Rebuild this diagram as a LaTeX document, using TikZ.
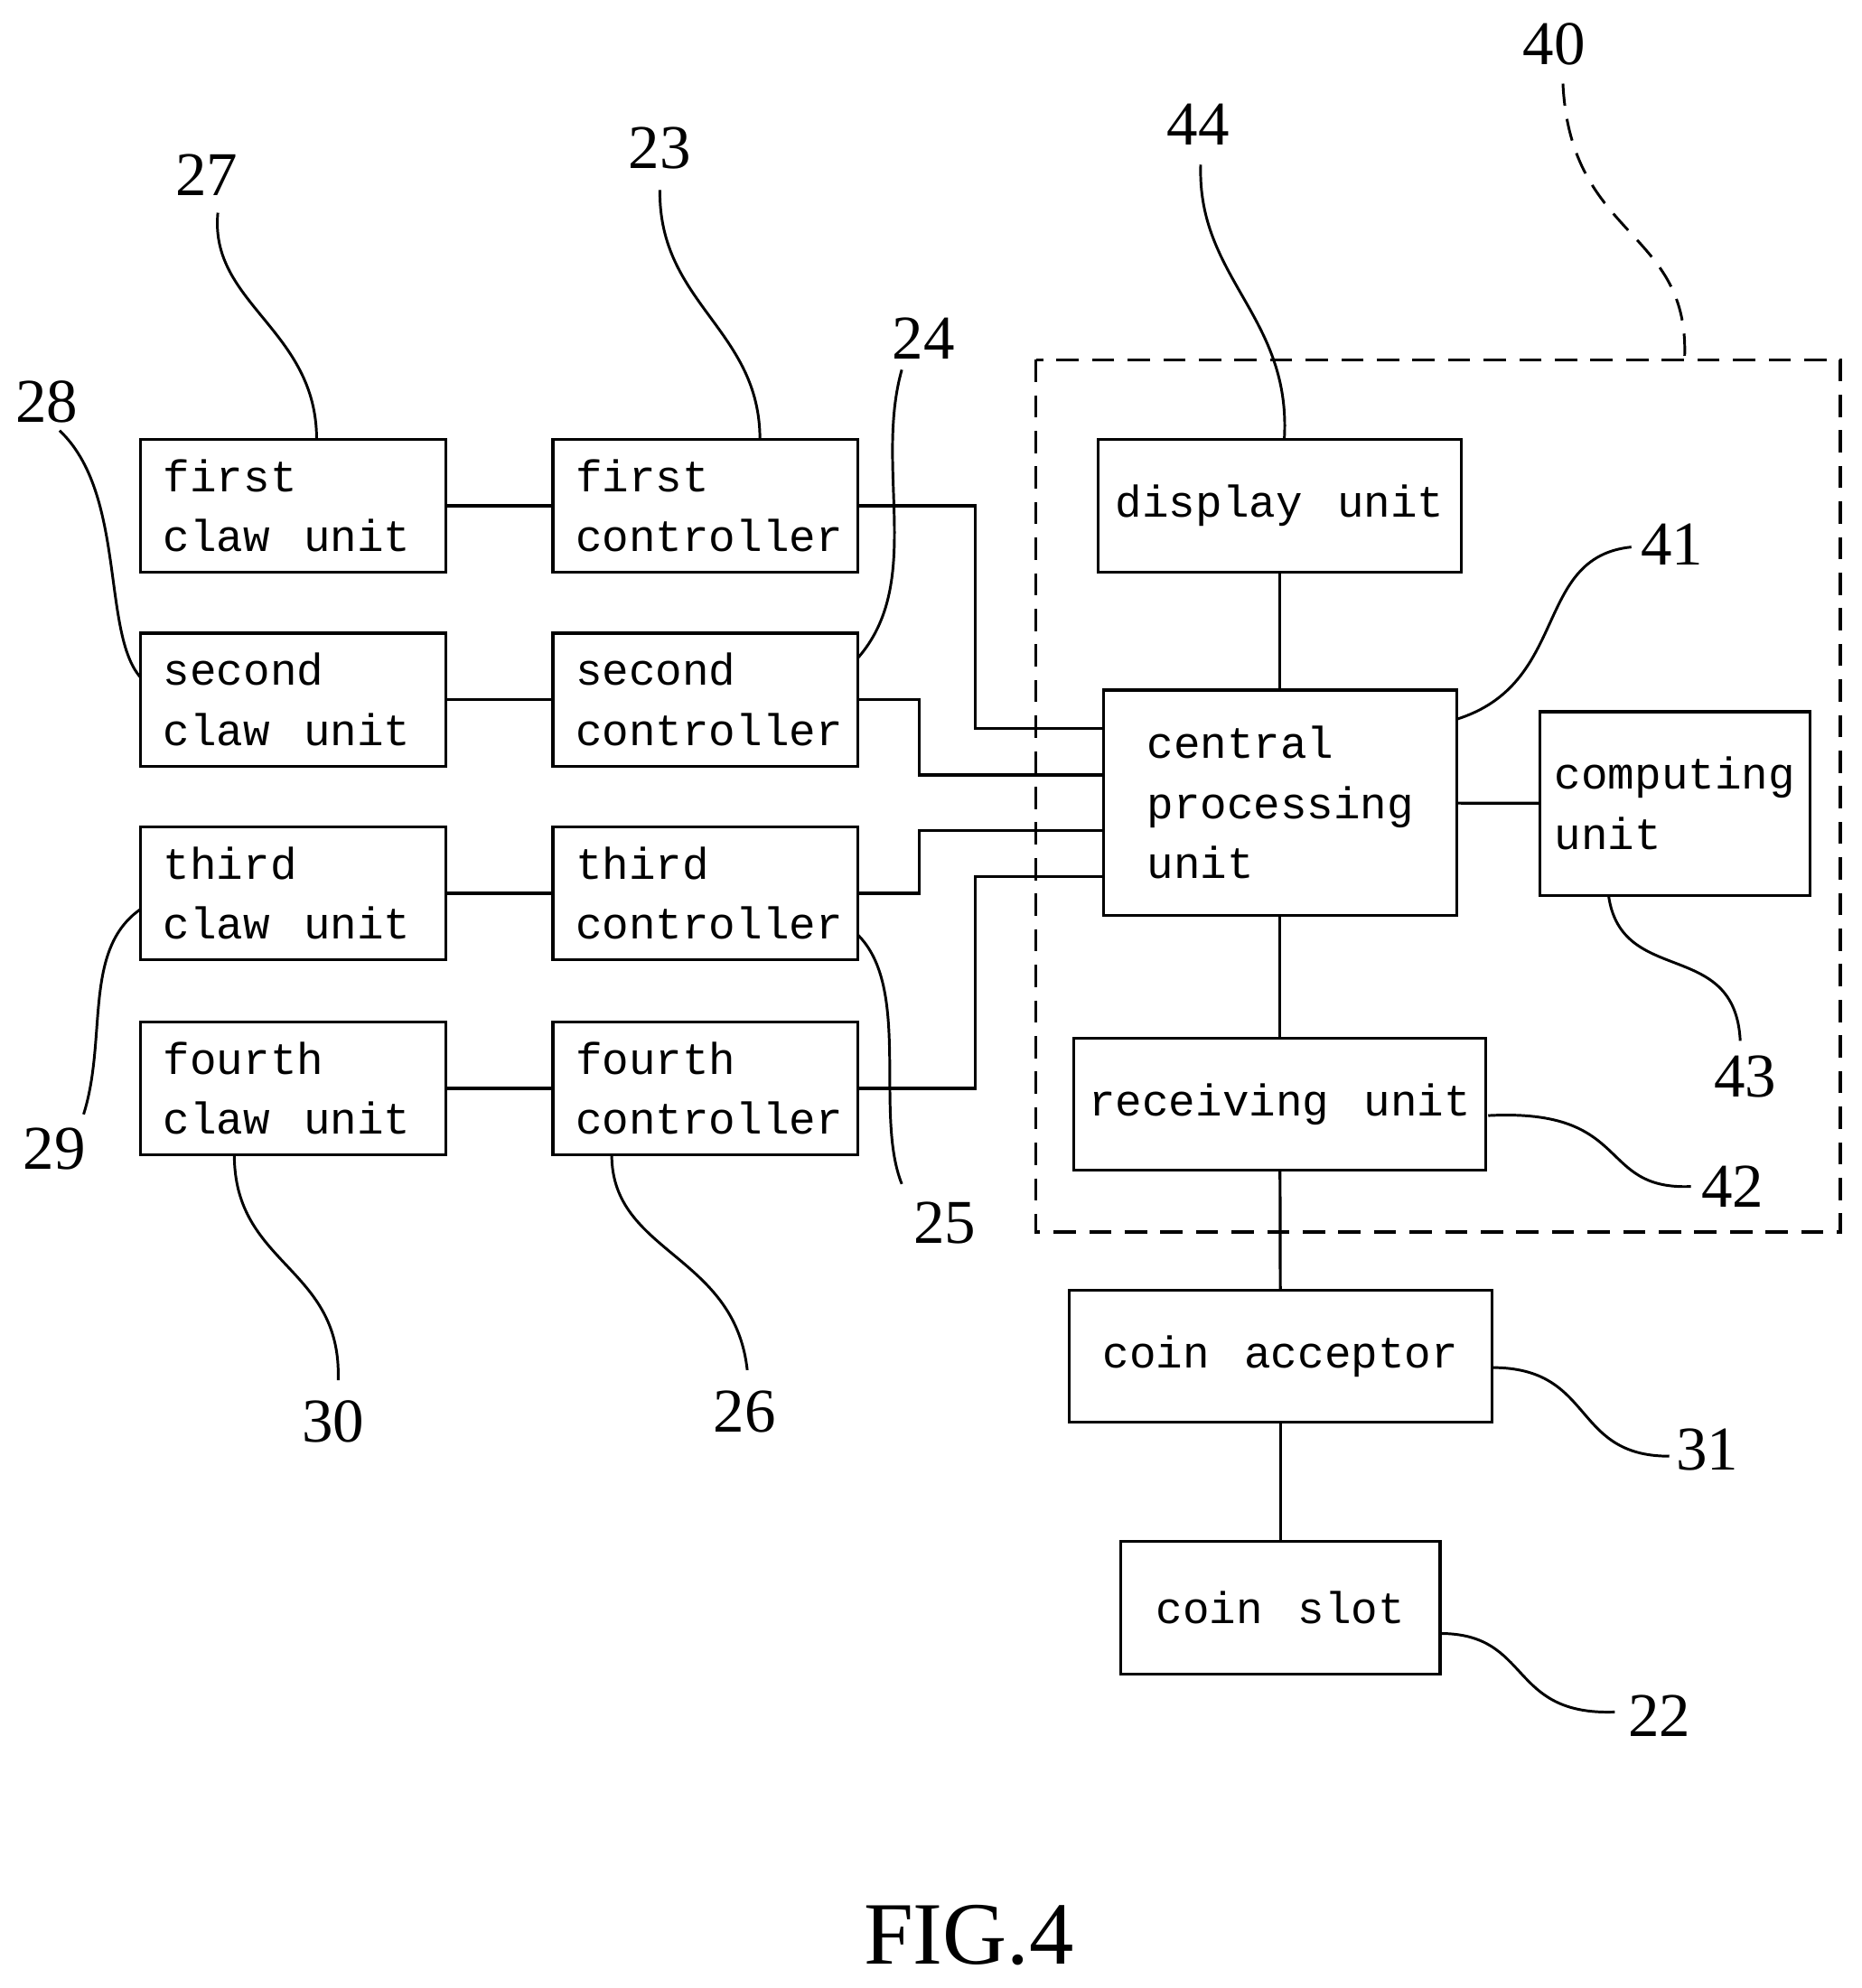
\documentclass[tikz,border=0pt]{standalone}
\usepackage{fontspec}
\setmainfont{Liberation Serif}
\newfontfamily\boxfont[WordSpace={1.3,0,0}]{Liberation Mono}
\newcommand{\wgap}{\hspace{0.75em}}
\begin{document}
\begin{tikzpicture}[x=0.02cm,y=-0.02cm,
  box/.style={draw,line width=1.3pt,inner sep=0pt,font=\boxfont\fontsize{20pt}{27pt}\selectfont,align=left},
  ln/.style={line width=1.3pt},
  lead/.style={line width=1.2pt},
  num/.style={font=\fontsize{28pt}{30pt}\selectfont}]
\useasboundingbox (0,0) rectangle (1470,1570);
% left boxes
\node[box,minimum width=4.82cm,minimum height=2.1cm,text width=4.1cm] (w1) at (231.5,399.5) {first\\claw\wgap unit};
\node[box,minimum width=4.82cm,minimum height=2.1cm,text width=4.1cm] (w2) at (231.5,552.5) {second\\claw\wgap unit};
\node[box,minimum width=4.82cm,minimum height=2.1cm,text width=4.1cm] (w3) at (231.5,705.5) {third\\claw\wgap unit};
\node[box,minimum width=4.82cm,minimum height=2.1cm,text width=4.1cm] (w4) at (231.5,859.5) {fourth\\claw\wgap unit};
\node[box,minimum width=4.82cm,minimum height=2.1cm,text width=4.1cm] (k1) at (557,399.5) {first\\controller};
\node[box,minimum width=4.82cm,minimum height=2.1cm,text width=4.1cm] (k2) at (557,552.5) {second\\controller};
\node[box,minimum width=4.82cm,minimum height=2.1cm,text width=4.1cm] (k3) at (557,705.5) {third\\controller};
\node[box,minimum width=4.82cm,minimum height=2.1cm,text width=4.1cm] (k4) at (557,859.5) {fourth\\controller};
% right boxes
\node[box,minimum width=5.74cm,minimum height=2.1cm] (disp) at (1010.5,399.5) {display unit};
\node[box,minimum width=5.58cm,minimum height=3.56cm,text width=4.2cm] (cpu) at (1010.5,634) {central\\processing\\unit};
\node[box,minimum width=4.26cm,minimum height=2.9cm,text width=3.8cm] (comp) at (1322.5,634.5) {computing\\unit};
\node[box,minimum width=6.5cm,minimum height=2.08cm] (recv) at (1010.5,872) {receiving unit};
\node[box,minimum width=6.68cm,minimum height=2.08cm] (acc) at (1011,1071) {coin acceptor};
\node[box,minimum width=5.04cm,minimum height=2.1cm] (slot) at (1011,1269.5) {coin slot};
\draw[ln,dashed,dash pattern=on 10pt off 6pt] (818,284) rectangle (1453,973);
% connectors
\foreach \i in {1,2,3,4} \draw[ln] (w\i) -- (k\i);
\draw[ln] (k1.east) -| (770,575) -- (cpu.west |- 770,575);
\draw[ln] (k2.east) -| (726,612) -- (cpu.west |- 726,612);
\draw[ln] (k3.east) -| (726,656) -- (cpu.west |- 726,656);
\draw[ln] (k4.east) -| (770,692) -- (cpu.west |- 770,692);
\draw[ln] (disp) -- (cpu);
\draw[ln] (cpu) -- (recv);
\draw[ln] (recv) -- (acc);
\draw[ln] (acc) -- (slot);
\draw[ln] (cpu) -- (comp);
% labels
\node[num] (n27) at (163,138) {27};
\node[num] (n23) at (521,117) {23};
\node[num] (n24) at (729,267) {24};
\node[num] (n28) at (37,317) {28};
\node[num] (n29) at (43,907) {29};
\node[num] (n30) at (263,1123) {30};
\node[num] (n26) at (588,1115) {26};
\node[num] (n25) at (746,966) {25};
\node[num] (n44) at (946,98) {44};
\node[num] (n40) at (1227,35) {40};
\node[num] (n41) at (1320,430) {41};
\node[num] (n43) at (1378,850) {43};
\node[num] (n42) at (1368,937) {42};
\node[num] (n31) at (1348,1145) {31};
\node[num] (n22) at (1310,1355) {22};
\node[font=\fontsize{40pt}{42pt}\selectfont] (fig) at (765,1528) {FIG.4};
% leaders
\draw[lead] (172,168) .. controls (165,240) and (250,260) .. (250,347);
\draw[lead] (521,150) .. controls (520,240) and (600,260) .. (600,347);
\draw[lead] (712,292) .. controls (690,370) and (730,460) .. (677,520);
\draw[lead] (47,340) .. controls (100,390) and (80,500) .. (111,535);
\draw[lead] (66,880) .. controls (85,820) and (65,750) .. (111,718);
\draw[lead] (267,1090) .. controls (270,1000) and (185,1000) .. (185,912);
\draw[lead] (590,1082) .. controls (580,990) and (483,990) .. (483,912);
\draw[lead] (677,738) .. controls (720,780) and (690,880) .. (712,935);
\draw[lead] (948,130) .. controls (945,220) and (1020,250) .. (1014,347);
\draw[lead,dashed,dash pattern=on 10pt off 6pt] (1234,66) .. controls (1240,190) and (1335,180) .. (1330,284);
\draw[lead] (1150,568) .. controls (1240,540) and (1210,440) .. (1288,432);
\draw[lead] (1270,707) .. controls (1280,780) and (1370,740) .. (1374,822);
\draw[lead] (1175,881) .. controls (1290,875) and (1260,940) .. (1335,937);
\draw[lead] (1178,1080) .. controls (1260,1080) and (1240,1150) .. (1318,1150);
\draw[lead] (1137,1290) .. controls (1210,1290) and (1190,1355) .. (1275,1352);
\end{tikzpicture}
\end{document}
